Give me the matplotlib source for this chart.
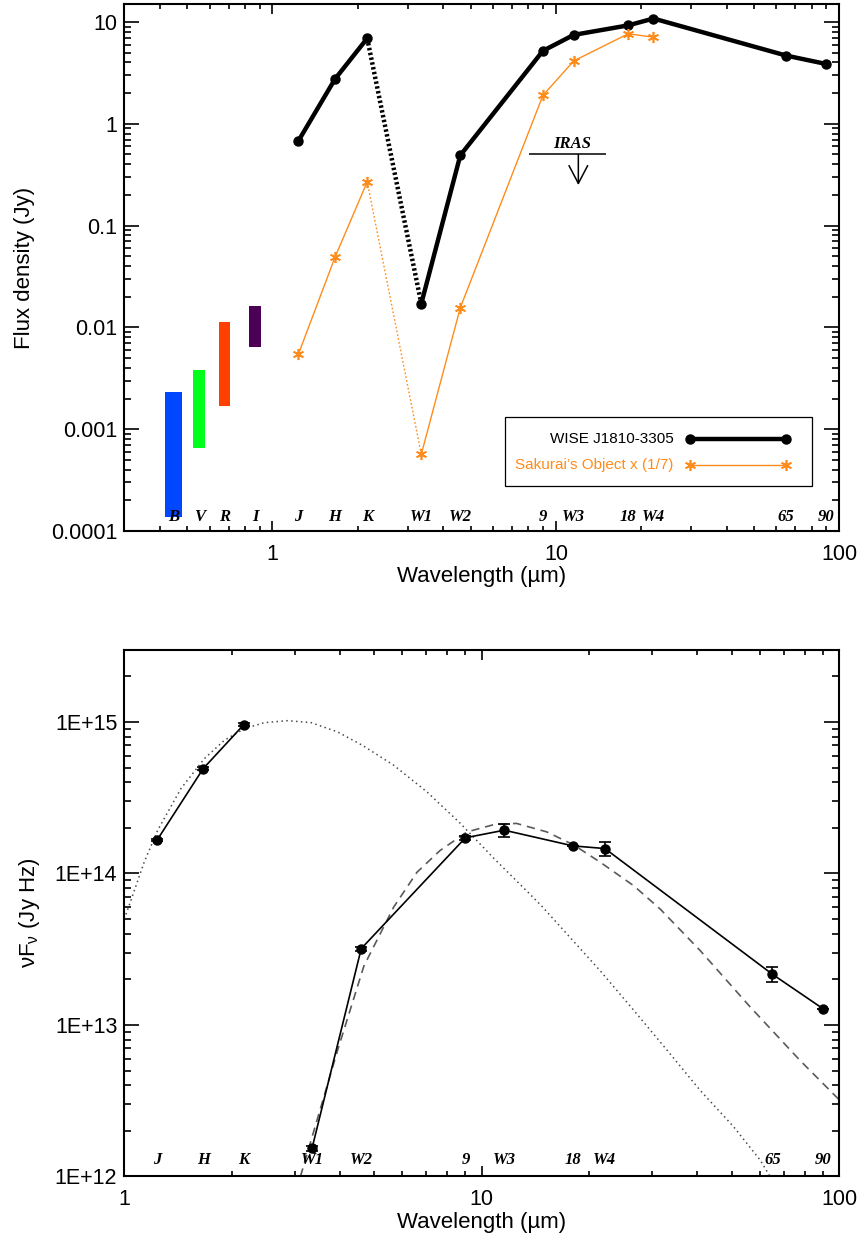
import numpy as np
import matplotlib
matplotlib.use('Agg')
import matplotlib.pyplot as plt
from matplotlib.ticker import LogLocator, NullFormatter, FixedLocator, FixedFormatter
from matplotlib.patches import Rectangle

# ---------------- data ----------------
band_names = ['J', 'H', 'K', 'W1', 'W2', '9', 'W3', '18', 'W4', '65', '90']
band_wl = [1.235, 1.662, 2.159, 3.35, 4.6, 9.0, 11.56, 18.0, 22.1, 65.0, 90.0]

# top panel: flux density (Jy)
wise_flux = [0.68, 2.75, 6.9, 0.0171, 0.49, 5.2, 7.46, 9.25, 10.8, 4.67, 3.86]
sakurai_flux = [0.00547, 0.0489, 0.269, 0.000566, 0.0156, 1.90, 4.14, 7.65, 7.08]

optical_names = ['B', 'V', 'R', 'I']
optical_wl_lo = [0.418, 0.526, 0.647, 0.828]
optical_wl_hi = [0.480, 0.579, 0.709, 0.912]
optical_flux_lo = [0.000138, 0.00066, 0.0017, 0.0064]
optical_flux_hi = [0.00234, 0.0038, 0.0113, 0.0161]
optical_colors = ['#0047ff', '#00ff1a', '#ff4000', '#4b0055']

iras_wl = 12.0
iras_band = [8.05, 15.0]
iras_limit = 0.5

top_yticks = [1e-4, 1e-3, 1e-2, 1e-1, 1, 10]
top_yticklabels = ['0.0001', '0.001', '0.01', '0.1', '1', '10']
top_xticks = [1, 10, 100]
top_xticklabels = ['1', '10', '100']

# bottom panel: nu F_nu (Jy Hz)
nufnu = [1.66e14, 4.92e14, 9.6e14, 1.53e12, 3.19e13, 1.72e14, 1.93e14, 1.52e14, 1.46e14, 2.16e13, 1.28e13]
nufnu_err = [3e12, 1e13, 2e13, 5e10, 1e12, 5e12, 2e13, 0, 1.5e13, 2.4e12, 0]

star_wl = [1.0, 1.033, 1.137, 1.24, 1.44, 1.675, 1.905, 2.166, 2.464, 2.863, 3.33, 3.95, 4.64,
           5.67, 7.02, 8.71, 10.8, 13.4, 14.7, 21.5, 26.6, 33.0, 40.8, 50.6, 60.1, 64.0]
star_model = [5.0e13, 6.2e13, 1.19e14, 1.93e14, 3.63e14, 5.73e14, 7.57e14, 9.03e14, 9.9e14, 1.02e15,
              9.9e14, 8.6e14, 7.0e14, 5.18e14, 3.46e14, 2.14e14, 1.26e14, 7.6e13, 6.1e13, 2.26e13,
              1.25e13, 6.8e12, 3.7e12, 2.13e12, 1.28e12, 1.0e12]

dust_wl = [3.11, 3.29, 3.95, 4.68, 5.67, 6.59, 7.65, 9.09, 10.8, 12.5, 15.2, 18.1, 21.4, 26.6,
           31.6, 40.8, 56.4, 77.8, 100.0]
dust_model = [1.0e12, 1.57e12, 6.8e12, 2.45e13, 6.0e13, 1.02e14, 1.42e14, 1.88e14, 2.1e14, 2.14e14,
              1.88e14, 1.54e14, 1.19e14, 8.3e13, 5.8e13, 3.1e13, 1.31e13, 5.8e12, 3.2e12]

bot_yticks = [1e12, 1e13, 1e14, 1e15]
bot_yticklabels = ['1E+12', '1E+13', '1E+14', '1E+15']

# ---------------- style ----------------
plt.rcParams['font.family'] = ['Liberation Sans', 'DejaVu Sans']
orange = '#ff8c1a'
band_font = dict(family='Liberation Serif', weight='bold', style='italic', size=12)

W, H = 862, 1239
fig = plt.figure(figsize=(W / 100, H / 100), dpi=100)
ax1 = fig.add_axes([124.3 / W, 1 - 531 / H, 715 / W, 527 / H])
ax2 = fig.add_axes([124.3 / W, 1 - 1176.4 / H, 715 / W, 526.7 / H])


def style_axes(ax):
    ax.set_xscale('log')
    ax.set_yscale('log')
    for s in ax.spines.values():
        s.set_linewidth(1.5)
    ax.xaxis.set_minor_locator(LogLocator(base=10, subs=np.arange(2, 10)))
    ax.yaxis.set_minor_locator(LogLocator(base=10, subs=np.arange(2, 10)))
    ax.xaxis.set_minor_formatter(NullFormatter())
    ax.yaxis.set_minor_formatter(NullFormatter())
    ax.tick_params(which='both', direction='in', top=True, right=True, labelsize=15.5, width=1.2)
    ax.tick_params(axis='x', which='major', length=7.5, pad=9)
    ax.tick_params(axis='x', which='minor', length=3.8)
    ax.tick_params(axis='y', which='major', length=10.5, pad=5)
    ax.tick_params(axis='y', which='minor', length=5)


# ---------------- top panel ----------------
ax = ax1
style_axes(ax)
ax.set_xlim(0.3, 100)
ax.set_ylim(1e-4, 15)

for lo, hi, flo, fhi, c in zip(optical_wl_lo, optical_wl_hi, optical_flux_lo, optical_flux_hi, optical_colors):
    ax.bar(lo, fhi - flo, width=hi - lo, bottom=flo, align='edge', color=c, linewidth=0)

bw = np.array(band_wl)
wf = np.array(wise_flux)
ax.plot(bw[:3], wf[:3], '-', color='black', lw=3.2)
ax.plot(bw[2:4], wf[2:4], color='black', lw=3.2, linestyle=(0, (0.55, 0.55)))
ax.plot(bw[3:], wf[3:], '-', color='black', lw=3.2)
ax.plot(bw, wf, 'o', color='black', ms=6.5)

ns = len(sakurai_flux)
sf = np.array(sakurai_flux)
sw = bw[:ns]
ax.plot(sw[:3], sf[:3], '-', color=orange, lw=1)
ax.plot(sw[2:4], sf[2:4], color=orange, lw=1, linestyle=(0, (1.2, 1.6)))
ax.plot(sw[3:], sf[3:], '-', color=orange, lw=1)
ax.plot(sw, sf, linestyle='none', marker=(6, 2, 0), color=orange, ms=8, mew=1.2)

# IRAS upper limit
ax.hlines(iras_limit, iras_band[0], iras_band[1], color='black', lw=1.1)
ax.annotate('', xy=(iras_wl, iras_limit / 2), xytext=(iras_wl, iras_limit),
            arrowprops=dict(arrowstyle='->,head_length=0.8,head_width=0.42', lw=1.1,
                            color='black', shrinkA=0, shrinkB=0, mutation_scale=16))
ax.annotate('IRAS', xy=(iras_wl, iras_limit), xytext=(-4.5, 1.5), textcoords='offset points',
            ha='center', va='bottom', **band_font)

# band labels
for name, lo, hi in zip(optical_names, optical_wl_lo, optical_wl_hi):
    ax.annotate(name, xy=(np.sqrt(lo * hi), 0), xycoords=('data', 'axes fraction'),
                xytext=(0, 4), textcoords='offset points', ha='center', va='bottom', **band_font)
for name, wl in zip(band_names, band_wl):
    ax.annotate(name, xy=(wl, 0), xycoords=('data', 'axes fraction'),
                xytext=(0, 4), textcoords='offset points', ha='center', va='bottom', **band_font)

ax.xaxis.set_major_locator(FixedLocator(top_xticks))
ax.xaxis.set_major_formatter(FixedFormatter(top_xticklabels))
ax.yaxis.set_major_locator(FixedLocator(top_yticks))
ax.yaxis.set_major_formatter(FixedFormatter(top_yticklabels))
ax.set_xlabel('Wavelength (\u00b5m)', fontsize=16)
ax.set_ylabel('Flux density (Jy)', fontsize=16)
ax.xaxis.set_label_coords(0.5, -0.087)
ax.xaxis.label.set_va('center')
ax.yaxis.set_label_coords(-0.14, 0.5)
ax.yaxis.label.set_va('center')

# legend (drawn in axes fraction)
ax.add_patch(Rectangle((0.533, 0.0854), 0.962 - 0.533, 0.2163 - 0.0854, transform=ax.transAxes,
                       fill=False, edgecolor='black', lw=0.9, zorder=5))
ax.text(0.768, 0.1746, 'WISE J1810-3305', transform=ax.transAxes, ha='right', va='center',
        fontsize=11, color='black')
ax.plot([0.791, 0.926], [0.1746, 0.1746], transform=ax.transAxes, color='black', lw=3.2,
        marker='o', ms=6.5)
ax.text(0.768, 0.1252, "Sakurai\u2019s Object x (1/7)", transform=ax.transAxes, ha='right',
        va='center', fontsize=11, color=orange)
ax.plot([0.791, 0.926], [0.1252, 0.1252], transform=ax.transAxes, color=orange, lw=1,
        marker=(6, 2, 0), ms=8, mew=1.2)

# ---------------- bottom panel ----------------
ax = ax2
style_axes(ax)
ax.set_xlim(1, 100)
ax.set_ylim(1e12, 3e15)

ax.plot(star_wl, star_model, color='#4a4a4a', lw=1.1, linestyle=(0, (1, 2.2)))
ax.plot(dust_wl, dust_model, color='#5a5a5a', lw=1.2, linestyle=(0, (5, 3.5)))

nf = np.array(nufnu)
ax.plot(bw[:3], nf[:3], '-', color='black', lw=1.2)
ax.plot(bw[3:], nf[3:], '-', color='black', lw=1.2)
ax.errorbar(bw, nf, yerr=nufnu_err, fmt='o', color='black', ms=6.5, elinewidth=1.2,
            capsize=4, capthick=1.2)

for name, wl in zip(band_names, band_wl):
    ax.annotate(name, xy=(wl, 0), xycoords=('data', 'axes fraction'),
                xytext=(0, 6), textcoords='offset points', ha='center', va='bottom', **band_font)

ax.xaxis.set_major_locator(FixedLocator(top_xticks))
ax.xaxis.set_major_formatter(FixedFormatter(top_xticklabels))
ax.yaxis.set_major_locator(FixedLocator(bot_yticks))
ax.yaxis.set_major_formatter(FixedFormatter(bot_yticklabels))
ax.set_xlabel('Wavelength (\u00b5m)', fontsize=16)
ax.set_ylabel('\u03bdF$_\\mathregular{\u03bd}$ (Jy Hz)', fontsize=16)
ax.xaxis.set_label_coords(0.5, -0.087)
ax.xaxis.label.set_va('center')
ax.yaxis.set_label_coords(-0.132, 0.5)
ax.yaxis.label.set_va('center')

fig.savefig('out.png', dpi=100)
